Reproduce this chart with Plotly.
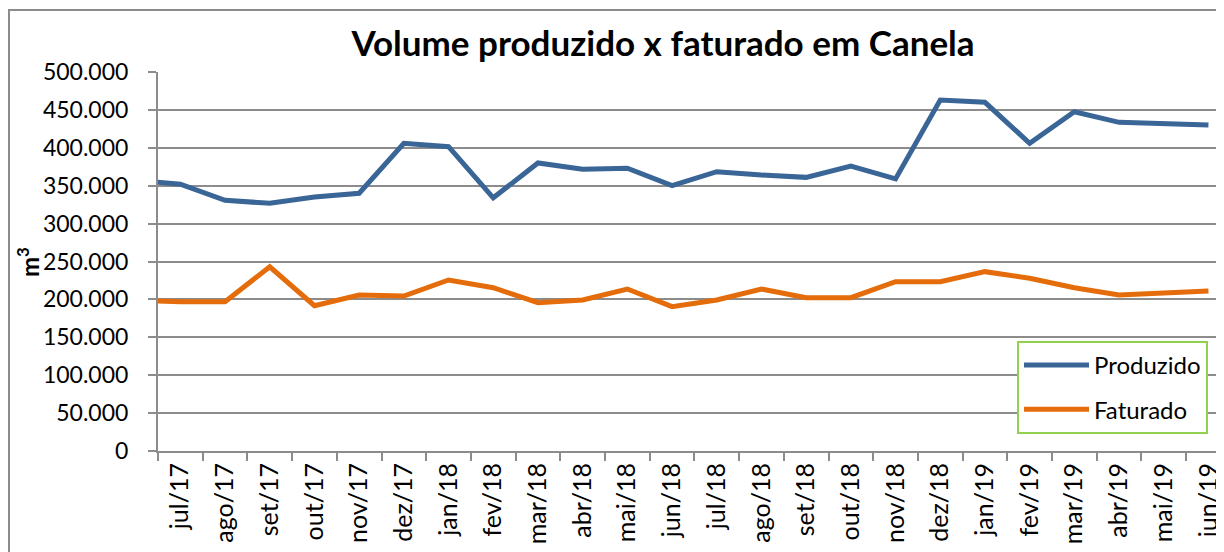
import plotly.graph_objects as go

months = ["jun/17", "jul/17", "ago/17", "set/17", "out/17", "nov/17", "dez/17",
          "jan/18", "fev/18", "mar/18", "abr/18", "mai/18", "jun/18", "jul/18",
          "ago/18", "set/18", "out/18", "nov/18", "dez/18", "jan/19", "fev/19",
          "mar/19", "abr/19", "mai/19", "jun/19"]

produzido = [357000, 352000, 330700, 326800, 335000, 340000, 406000, 401500, 334000,
             380000, 371600, 373000, 350000, 368500, 364000, 361000, 376000, 359000,
             463000, 460000, 406000, 447600, 433600, 431500, 430000]

faturado = [198800, 197000, 197000, 243000, 191700, 205800, 204500, 225600, 215400,
            195600, 199200, 213700, 190400, 199200, 213700, 202300, 202300, 223400,
            223400, 236600, 227800, 215400, 205800, 208000, 211000]

FONT = "Lato"
GRID = "#8C8C8C"
OFF = 8  # page body margin

fig = go.Figure()
fig.add_trace(go.Scatter(x=months, y=produzido, mode="lines", name="Produzido",
                         legendgroup="p",
                         line=dict(color="#3A6597", width=5)))
fig.add_trace(go.Scatter(x=months, y=faturado, mode="lines", name="Faturado",
                         legendgroup="f",
                         line=dict(color="#E46C0A", width=5)))

W, H = 1224, 552
L, T = 158 - OFF, 72 - OFF
B = H - (451 - OFF)
R = OFF
pw, ph = W - L - R, H - T - B

def px(x):
    return (x - OFF - L) / pw

def py(y):
    return (H - B - (y - OFF)) / ph

fig.update_layout(
    width=W, height=H,
    margin=dict(l=L, r=R, t=T, b=B),
    paper_bgcolor="white", plot_bgcolor="white",
    separators=",.",
    font=dict(family=FONT, size=23, color="black"),
    title=dict(text="<b>Volume produzido x faturado em Canela</b>",
               x=(663 - OFF) / W, xanchor="center", xref="container",
               y=1 - (44 - OFF) / H, yanchor="middle", yref="container",
               font=dict(family=FONT, size=35, color="black")),
    xaxis=dict(type="category", categoryorder="array", categoryarray=months,
               range=[0.5, 0.5 + pw / 44.7],
               tickson="boundaries", ticks="outside", ticklen=8, tickwidth=2,
               tickcolor=GRID, showgrid=False, showline=True, linecolor=GRID,
               linewidth=2, tickangle=-90, tickfont=dict(size=25)),
    yaxis=dict(range=[0, 500000], dtick=50000, tickformat=",d",
               showgrid=True, gridcolor=GRID, gridwidth=2,
               showline=True, linecolor=GRID, linewidth=2,
               ticks="outside", ticklen=8, tickwidth=2, tickcolor=GRID,
               ticklabelstandoff=15, tickfont=dict(size=23),
               zeroline=False),
    legend=dict(x=px(1017), y=py(341), xanchor="left", yanchor="top",
                bordercolor="#92D050", borderwidth=2, bgcolor="white",
                itemwidth=65, tracegroupgap=10, traceorder="grouped",
                font=dict(size=24)),
    annotations=[dict(text="<b>m<sup>3</sup></b>", xref="paper", yref="paper",
                      x=px(28), y=py(262), xanchor="center", yanchor="middle",
                      textangle=-90, showarrow=False, font=dict(size=24))],
    shapes=[dict(type="rect", xref="paper", yref="paper",
                 x0=px(9), y0=py(620), x1=px(1280), y1=py(10),
                 line=dict(color="#8C8C8C", width=2), layer="below")],
)

fig.write_html("out.html")
